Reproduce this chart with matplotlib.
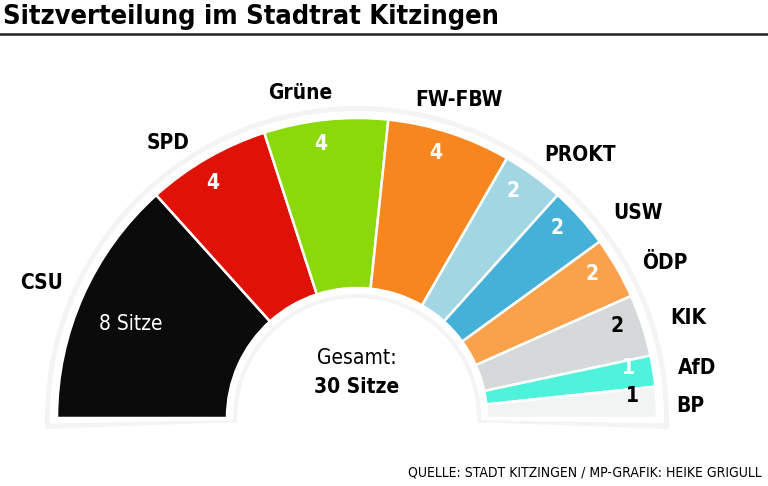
import numpy as np
import matplotlib.pyplot as plt
from matplotlib.patches import Wedge

parteien = ["CSU", "SPD", "Grüne", "FW-FBW", "PROKT", "USW", "ÖDP", "KIK", "AfD", "BP"]
sitze = [8, 4, 4, 4, 2, 2, 2, 2, 1, 1]
farben = ["#0b0b0b", "#e01106", "#8bd80b", "#f7861f", "#a2d6e3",
          "#45b1d8", "#f9a14b", "#d6d9d9", "#4ff2da", "#f2f3f3"]
zahl_farbe = ["white"] * 7 + ["black", "white", "black"]

# Layout (Pixelkoordinaten, y nach unten)
mitte = (357, 418)
r_innen, r_aussen = 130, 300
label_xy = [(42, 283), (168, 143), (300, 93), (459, 100), (580, 155),
            (638, 213), (665, 263), (688, 318), (697, 368), (690, 406)]

plt.rcParams['font.family'] = ['DejaVu Sans']
plt.rcParams['font.stretch'] = 'condensed'

fig = plt.figure(figsize=(7.68, 4.86), dpi=100)
ax = fig.add_axes([0, 0, 1, 1])
ax.set_xlim(0, 768)
ax.set_ylim(0, 486)
ax.axis('off')

cx, cy = mitte[0], 486 - mitte[1]

# leichter Schatten + weisser Rand
ax.add_patch(Wedge((cx, cy), r_aussen + 12, -2, 182, width=r_aussen - r_innen + 22,
                   facecolor="#f4f4f4", edgecolor="none"))
ax.add_patch(Wedge((cx, cy), r_aussen + 7, -1, 181, width=r_aussen - r_innen + 13,
                   facecolor="white", edgecolor="none"))

gesamt = sum(sitze)
grenzen = 180 - np.cumsum([0] + sitze) * 180 / gesamt
for i, (p, n) in enumerate(zip(parteien, sitze)):
    t1, t2 = grenzen[i + 1], grenzen[i]
    ax.add_patch(Wedge((cx, cy), r_aussen, t1, t2, width=r_aussen - r_innen,
                       facecolor=farben[i], edgecolor="white", linewidth=1.8))
    mid = np.radians((t1 + t2) / 2 + 1.5)
    r = 245 if i == 0 else 276
    txt = f"{n} Sitze" if i == 0 else str(n)
    ax.text(cx + r * np.cos(mid), cy + r * np.sin(mid), txt, color=zahl_farbe[i],
            fontsize=15, fontweight='normal' if i == 0 else 'bold',
            ha='center', va='center')
    lx, ly = label_xy[i]
    ax.text(lx, 486 - ly, p, fontsize=15, fontweight='bold', ha='center', va='center')

ax.text(cx, 486 - 358, "Gesamt:", fontsize=15, ha='center', va='center')
ax.text(cx, 486 - 387, f"{gesamt} Sitze", fontsize=15, fontweight='bold',
        ha='center', va='center')

# Titel und Linie
ax.text(3, 486 - 17, "Sitzverteilung im Stadtrat Kitzingen", fontsize=19.5,
        fontweight='bold', ha='left', va='center')
ax.plot([0, 768], [486 - 34, 486 - 34], color="#222222", linewidth=1.8)

ax.text(762, 486 - 472, "QUELLE: STADT KITZINGEN / MP-GRAFIK: HEIKE GRIGULL",
        fontsize=10, ha='right', va='center')

fig.savefig("out.png", dpi=100)
